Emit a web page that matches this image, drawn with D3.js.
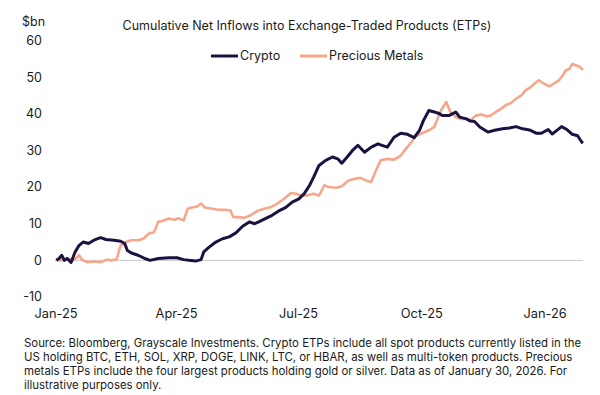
<!DOCTYPE html>
<html>
<head>
<meta charset="UTF-8">
<title>Cumulative Net Inflows into ETPs</title>
<script src="https://cdn.jsdelivr.net/npm/d3@7"></script>
<style>
  body { margin: 0; background: #fff; }
  svg { font-family: Inter, "Open Sans", sans-serif; }
  text { fill: #1a1a1a; }
</style>
</head>
<body>
<svg id="chart" width="600" height="395"></svg>
<script>
// crypto ETPs, $bn
var cryptoDates = ["2025-01-02","2025-01-04","2025-01-06","2025-01-08","2025-01-10","2025-01-13","2025-01-16","2025-01-19","2025-01-22","2025-01-26","2025-01-30","2025-02-04","2025-02-08","2025-02-14","2025-02-19","2025-02-22","2025-02-24","2025-02-27","2025-03-04","2025-03-09","2025-03-13","2025-03-19","2025-03-27","2025-04-02","2025-04-07","2025-04-11","2025-04-16","2025-04-20","2025-04-22","2025-04-26","2025-05-01","2025-05-06","2025-05-11","2025-05-16","2025-05-21","2025-05-26","2025-05-30","2025-06-02","2025-06-07","2025-06-12","2025-06-17","2025-06-22","2025-06-27","2025-07-02","2025-07-06","2025-07-10","2025-07-13","2025-07-17","2025-07-22","2025-07-27","2025-07-31","2025-08-03","2025-08-07","2025-08-11","2025-08-15","2025-08-20","2025-08-25","2025-08-30","2025-09-02","2025-09-06","2025-09-11","2025-09-16","2025-09-21","2025-09-26","2025-09-30","2025-10-03","2025-10-07","2025-10-11","2025-10-15","2025-10-17","2025-10-22","2025-10-27","2025-10-30","2025-11-04","2025-11-07","2025-11-10","2025-11-14","2025-11-20","2025-11-25","2025-12-01","2025-12-06","2025-12-11","2025-12-16","2025-12-21","2025-12-26","2025-12-30","2026-01-04","2026-01-07","2026-01-11","2026-01-14","2026-01-18","2026-01-22","2026-01-26","2026-01-29","2026-01-30"];
var cryptoValues = [0,0.5,1.4,0,0.5,-0.6,2.3,4.1,5.0,4.6,5.5,6.2,5.7,5.5,5.2,4.6,2.7,2.0,1.4,0.5,0,0.5,0.7,0.7,0.2,0,-0.2,0.2,2.3,3.6,5.0,5.9,6.4,7.5,9.3,10.5,10.0,10.5,11.4,12.3,13.5,14.4,15.9,16.8,18.2,20.5,22.7,25.9,27.3,28.2,27.7,26.5,28.2,30.0,31.4,29.5,30.9,31.8,31.4,30.9,33.6,34.7,34.4,33.5,35.5,38.2,40.9,40.5,40.0,39.5,39.5,40.5,39.1,38.6,38.0,37.9,36.4,35.0,35.5,35.9,36.1,36.5,35.9,35.6,34.7,34.7,35.7,34.5,35.6,36.5,35.7,34.4,34.0,32.3,32.0];

// precious metals ETPs, $bn
var metalDates = ["2025-01-02","2025-01-06","2025-01-11","2025-01-15","2025-01-19","2025-01-21","2025-01-25","2025-01-30","2025-02-04","2025-02-09","2025-02-12","2025-02-16","2025-02-19","2025-02-23","2025-02-27","2025-03-04","2025-03-08","2025-03-12","2025-03-16","2025-03-19","2025-03-23","2025-03-27","2025-03-31","2025-04-03","2025-04-07","2025-04-10","2025-04-13","2025-04-17","2025-04-20","2025-04-23","2025-04-28","2025-05-03","2025-05-08","2025-05-12","2025-05-14","2025-05-18","2025-05-22","2025-05-27","2025-06-01","2025-06-06","2025-06-11","2025-06-16","2025-06-21","2025-06-26","2025-06-30","2025-07-03","2025-07-08","2025-07-13","2025-07-17","2025-07-21","2025-07-24","2025-07-30","2025-08-03","2025-08-08","2025-08-13","2025-08-17","2025-08-21","2025-08-25","2025-08-28","2025-09-01","2025-09-06","2025-09-11","2025-09-16","2025-09-20","2025-09-24","2025-09-27","2025-10-02","2025-10-07","2025-10-11","2025-10-13","2025-10-16","2025-10-20","2025-10-23","2025-10-27","2025-10-31","2025-11-04","2025-11-07","2025-11-11","2025-11-15","2025-11-19","2025-11-22","2025-11-26","2025-11-30","2025-12-04","2025-12-07","2025-12-11","2025-12-15","2025-12-18","2025-12-22","2025-12-26","2025-12-28","2026-01-01","2026-01-05","2026-01-08","2026-01-12","2026-01-15","2026-01-17","2026-01-20","2026-01-22","2026-01-25","2026-01-27","2026-01-30"];
var metalValues = [0,0,0.5,0,1.4,0.2,-0.5,-0.3,-0.5,0.2,0,0.3,4.1,5.0,5.5,5.5,5.9,7.3,7.7,10.5,10.9,11.4,11.1,11.5,10.9,14.1,14.4,14.7,15.5,14.4,14.1,13.8,13.8,13.6,11.8,11.8,11.6,12.3,13.5,14.1,14.5,15.5,16.8,18.4,18.2,17.7,17.7,18.2,17.7,20.5,20.0,19.8,20.2,21.8,22.3,22.5,21.8,21.4,24.1,27.3,27.7,27.5,28.6,30.5,32.3,33.8,34.7,35.5,36.4,38.2,40.9,43.2,40.5,39.1,38.6,38.6,38.2,39.5,39.8,39.3,39.5,40.5,41.4,42.5,42.9,44.1,45.0,46.4,47.3,48.6,49.1,48.2,47.5,48.2,49.1,50.5,51.8,52.3,53.6,53.2,52.9,52.0];

var yTicks = [-10, 0, 10, 20, 30, 40, 50, 60];
var xTickDates = ["2025-01-01","2025-04-01","2025-07-01","2025-10-01","2026-01-01"];
var xTickLabels = ["Jan-25","Apr-25","Jul-25","Oct-25","Jan-26"];

var cryptoColor = "#1c1242";
var metalColor = "#f6a68a";

var parse = d3.timeParse("%Y-%m-%d");
var svg = d3.select("#chart");

var x = d3.scaleTime()
  .domain([parse("2025-01-01"), parse("2026-01-30")])
  .range([55, 583]);
var y = d3.scaleLinear().domain([-10, 60]).range([297, 40.5]);

// zero line
svg.append("line")
  .attr("x1", 55).attr("x2", 583)
  .attr("y1", y(0)).attr("y2", y(0))
  .attr("stroke", "#c9c9c9").attr("stroke-width", 1);

// y labels
svg.selectAll(".ylab").data(yTicks).enter().append("text")
  .attr("class", "ylab")
  .attr("x", 42).attr("y", function(d) { return y(d); })
  .attr("dy", "0.35em")
  .attr("text-anchor", "end")
  .style("font-size", "12.5px")
  .text(function(d) { return d; });

svg.append("text").attr("x", 22).attr("y", 26)
  .style("font-size", "12.5px").text("$bn");

// x labels
svg.selectAll(".xlab").data(xTickDates).enter().append("text")
  .attr("class", "xlab")
  .attr("x", function(d) { return x(parse(d)) + 1; })
  .attr("y", 318)
  .attr("text-anchor", "middle")
  .style("font-size", "12.8px")
  .text(function(d, i) { return xTickLabels[i]; });

// title
svg.append("text").attr("x", 307).attr("y", 30)
  .attr("text-anchor", "middle")
  .style("font-size", "12.5px")
  .text("Cumulative Net Inflows into Exchange-Traded Products (ETPs)");

// legend
var legend = [
  {name: "Crypto", color: cryptoColor, x: 211},
  {name: "Precious Metals", color: metalColor, x: 300}
];
var lg = svg.selectAll(".lg").data(legend).enter().append("g")
  .attr("transform", function(d) { return "translate(" + d.x + ",56)"; });
lg.append("line").attr("x1", 0).attr("x2", 27)
  .attr("stroke", function(d) { return d.color; }).attr("stroke-width", 3);
lg.append("text").attr("x", 29).attr("dy", "0.35em")
  .style("font-size", "12.5px")
  .text(function(d) { return d.name; });

// lines (window.crypto is taken, so other names here)
var line = d3.line()
  .x(function(d) { return x(d[0]); })
  .y(function(d) { return y(d[1]); });

var metalPts = metalDates.map(function(d, i) { return [parse(d), metalValues[i]]; });
var cryptoPts = cryptoDates.map(function(d, i) { return [parse(d), cryptoValues[i]]; });

svg.append("path").datum(metalPts)
  .attr("d", line).attr("fill", "none")
  .attr("stroke", metalColor).attr("stroke-width", 2.6)
  .attr("stroke-linejoin", "round");
svg.append("path").datum(cryptoPts)
  .attr("d", line).attr("fill", "none")
  .attr("stroke", cryptoColor).attr("stroke-width", 3)
  .attr("stroke-linejoin", "round");

// footnote
var notes = [
  "Source: Bloomberg, Grayscale Investments. Crypto ETPs include all spot products currently listed in the",
  "US holding BTC, ETH, SOL, XRP, DOGE, LINK, LTC, or HBAR, as well as multi-token products. Precious",
  "metals ETPs include the four largest products holding gold or silver. Data as of January 30, 2026. For",
  "illustrative purposes only."
];
svg.selectAll(".note").data(notes).enter().append("text")
  .attr("x", 24).attr("y", function(d, i) { return 347 + i * 14; })
  .style("font-size", "11.4px")
  .text(function(d) { return d; });
</script>
</body>
</html>
